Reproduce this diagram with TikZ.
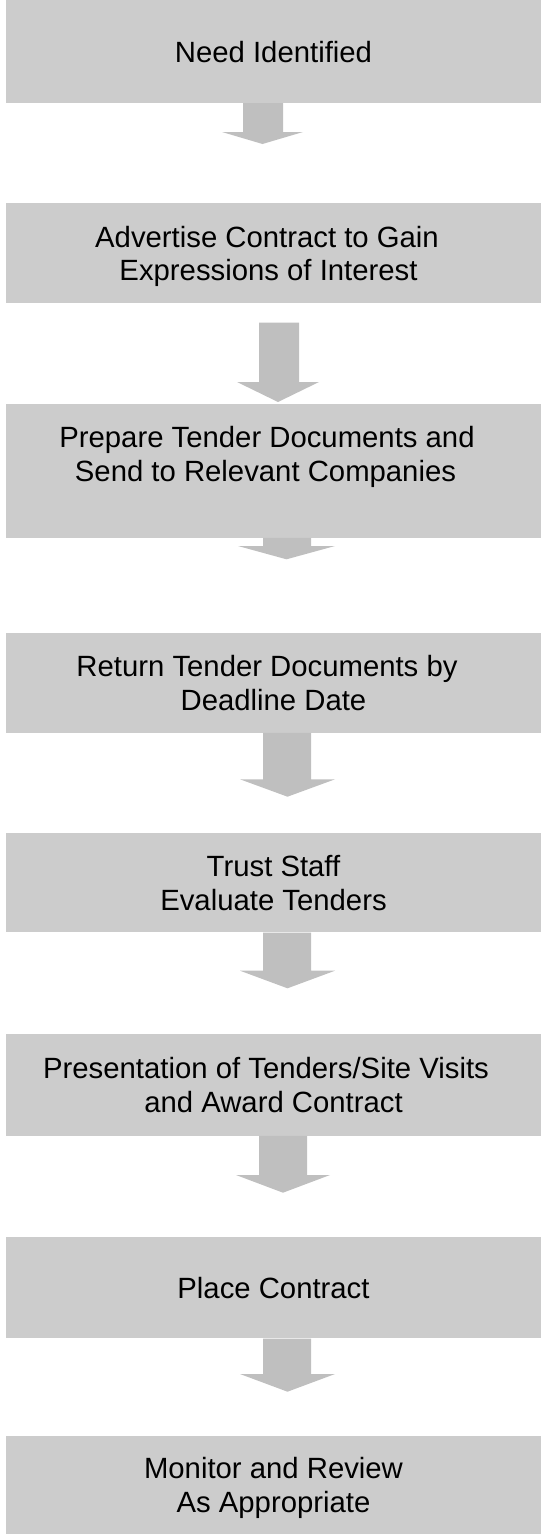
\documentclass[tikz,border=0pt]{standalone}
\usepackage{fontspec}
\setmainfont{Liberation Sans}
\definecolor{boxgray}{RGB}{204,204,204}
\definecolor{arrowgray}{RGB}{191,191,191}
\tikzset{
  stage/.style={fill=boxgray, draw=none, minimum width=535pt, inner sep=0pt,
    align=center, text depth=0pt, anchor=center,
    font=\fontsize{29.3pt}{33.7pt}\selectfont},
  arrowfill/.style={fill=arrowgray, draw=none}
}
% #1 start node, #2 shaft left x, #3 shaft right x, #4 head top y,
% #5 head left x, #6 head right x, #7 tip y
\newcommand{\flowarrow}[7]{%
  \fill[arrowfill] (#2,0 |- #1) -- (#3,0 |- #1) -- (#3,#4) -- (#6,#4)
    -- ({(#5+#6)/2},#7) -- (#5,#4) -- (#2,#4) -- cycle;}
\begin{document}
\begin{tikzpicture}[x=1pt,y=-1pt]
\useasboundingbox (0,0) rectangle (541,1534);

\node[stage, minimum height=103pt]   (b1) at (273.5,51.5)  {Need Identified};
\node[stage, minimum height=100pt]   (b2) at (273.5,253.3) {Advertise Contract to Gain\kern13pt\mbox{}\\Expressions of Interest\kern10pt\mbox{}};
\node[stage, minimum height=133.6pt] (b3) at (273.5,470.8) {Prepare Tender Documents and\kern13pt\mbox{}\\Send to Relevant Companies\kern16pt\mbox{}\\\mbox{}};
\node[stage, minimum height=100pt]   (b4) at (273.5,682.7) {Return Tender Documents by\kern13pt\mbox{}\\Deadline Date};
\node[stage, minimum height=99pt]    (b5) at (273.5,882.8) {Trust Staff\\Evaluate Tenders};
\node[stage, minimum height=101.6pt] (b6) at (273.5,1084.8) {Presentation of Tenders/Site Visits\kern15pt\mbox{}\\and Award Contract};
\node[stage, minimum height=101.6pt] (b7) at (273.5,1287.5) {Place Contract};
\node[stage, minimum height=98.4pt]  (b8) at (273.5,1484.8) {Monitor and Review\\As Appropriate};

\coordinate (g2) at ([yshift=-19pt]b2.south);

\flowarrow{b1.south}{243}{283}{132}{222}{303}{144}
\flowarrow{g2}{259}{299}{382}{237}{319}{402}
\flowarrow{b3.south}{263}{311}{546}{238}{335}{559.3}
\flowarrow{b4.south}{263}{311}{779.3}{240}{335}{796.7}
\flowarrow{b5.south}{263}{311}{970.7}{240}{335}{988.3}
\flowarrow{b6.south}{259}{307}{1175}{236}{330}{1192.7}
\flowarrow{b7.south}{263}{311}{1374}{240}{335}{1391.7}
\end{tikzpicture}
\end{document}
